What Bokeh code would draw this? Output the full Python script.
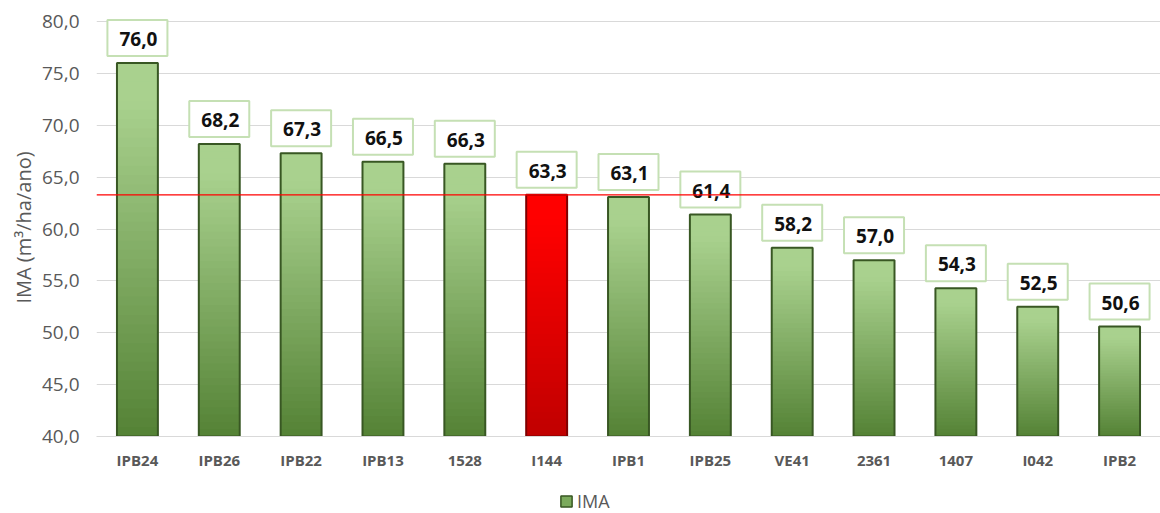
from bokeh.plotting import figure
from bokeh.layouts import column
from bokeh.models import Span, CustomJSTickFormatter, Legend, LegendItem, ColumnDataSource, FixedTicker, Range1d
from bokeh.core.properties import value
from bokeh.embed import file_html
from bokeh.resources import INLINE

categories = ["IPB24", "IPB26", "IPB22", "IPB13", "1528", "I144", "IPB1", "IPB25", "VE41", "2361", "1407", "I042", "IPB2"]
ima = [76.0, 68.2, 67.3, 66.5, 66.3, 63.3, 63.1, 61.4, 58.2, 57.0, 54.3, 52.5, 50.6]
highlight = "I144"
y_min, y_max = 40.0, 80.0
series_name = "IMA"
axis_title = "IMA (m³/ha/ano)"

FONT = "Open Sans"
GRAY = "#595959"

# small headroom above the top gridline so the first label box is not clipped
p = figure(x_range=categories, y_range=Range1d(y_min, y_max + 0.3), width=1160, height=483,
           output_backend="svg", toolbar_location=None,
           min_border_left=96, min_border_right=0, min_border_top=18, min_border_bottom=47)
p.outline_line_color = None
p.background_fill_color = "white"

def mix(c1, c2, t):
    return "#%02x%02x%02x" % tuple(int(round(a + (b - a) * t)) for a, b in zip(c1, c2))

green_top, green_bot = (169, 209, 142), (84, 130, 53)
red_top, red_bot = (255, 0, 0), (192, 0, 0)
N = 40
xs, bots, tops, cols = [], [], [], []
for c, v in zip(categories, ima):
    ct, cb = (red_top, red_bot) if c == highlight else (green_top, green_bot)
    h = (v - y_min) / N
    for k in range(N):
        b = y_min + k * h
        t = b + h * 2.5
        frac = 1 - (k + 0.5) / N
        tt = min(1.0, max(0.0, (frac - 0.1) / 0.9))
        xs.append(c); bots.append(b); tops.append(min(t, v)); cols.append(mix(ct, cb, tt))

p.vbar(x=xs, bottom=bots, top=tops, width=0.5, fill_color=cols, line_color=None)

outline_cols = ["#7f0000" if c == highlight else "#385723" for c in categories]
p.vbar(x=categories, bottom=y_min, top=ima, width=0.5, fill_alpha=0,
       line_color=outline_cols, line_width=2)

avg = Span(location=ima[categories.index(highlight)], dimension="width",
           line_color="#FF0000", line_width=1.2)
p.add_layout(avg)

labels = [("%.1f" % v).replace(".", ",") for v in ima]
src = ColumnDataSource(dict(x=categories, y=ima, t=labels))
p.text(x="x", y="y", text="t", source=src, y_offset=-25,
       text_align="center", text_baseline="middle",
       text_font=value(FONT), text_font_style="bold", text_font_size="19px",
       text_color="#111111",
       background_fill_color="white", border_line_color="#C5E0B4", border_line_width=2,
       padding=[12, 10, 12, 10])

p.yaxis.ticker = FixedTicker(ticks=[40, 45, 50, 55, 60, 65, 70, 75, 80])
p.yaxis.formatter = CustomJSTickFormatter(code="return tick.toFixed(1).replace('.', ',');")
p.yaxis.axis_label = axis_title
p.yaxis.axis_label_text_font = FONT
p.yaxis.axis_label_text_font_style = "normal"
p.yaxis.axis_label_text_font_size = "20px"
p.yaxis.axis_label_text_color = GRAY
p.yaxis.axis_label_standoff = 2
p.yaxis.major_label_text_font = FONT
p.yaxis.major_label_text_font_size = "19px"
p.yaxis.major_label_text_color = GRAY
p.yaxis.major_label_standoff = 17
p.yaxis.axis_line_color = None
p.yaxis.major_tick_line_color = None
p.yaxis.minor_tick_line_color = None
p.yaxis.major_tick_out = 0
p.yaxis.major_tick_in = 0

p.xaxis.major_label_text_font = FONT
p.xaxis.major_label_text_font_style = "bold"
p.xaxis.major_label_text_font_size = "15px"
p.xaxis.major_label_text_color = GRAY
p.xaxis.major_label_standoff = 7
p.xaxis.axis_line_color = "#D9D9D9"
p.xaxis.major_tick_line_color = None
p.xaxis.minor_tick_line_color = None

p.xgrid.grid_line_color = None
p.ygrid.grid_line_color = "#D9D9D9"
p.ygrid.grid_line_width = 1
p.x_range.range_padding = 0

# legend strip below the chart
lg = figure(width=1160, height=30, x_range=(0, 1), y_range=(0, 1),
            output_backend="svg", toolbar_location=None,
            min_border=0, min_border_left=0, min_border_right=0, min_border_top=0, min_border_bottom=0)
lg.axis.visible = False
lg.grid.visible = False
lg.outline_line_color = None
proxy = lg.quad(left=[float("nan")], right=[float("nan")], bottom=[float("nan")], top=[float("nan")],
                fill_color="#7BAA5C", line_color="#385723", line_width=1.5)
legend = Legend(items=[LegendItem(label=series_name, renderers=[proxy])],
                orientation="horizontal", location=(463, 0),
                label_text_font=FONT, label_text_font_size="18px", label_text_color=GRAY,
                border_line_color=None, background_fill_alpha=0, glyph_width=14, glyph_height=14,
                label_standoff=4, padding=0, margin=0)
lg.add_layout(legend, "center")

with open("out.html", "w") as f:
    f.write(file_html(column(p, lg, spacing=0), INLINE))
